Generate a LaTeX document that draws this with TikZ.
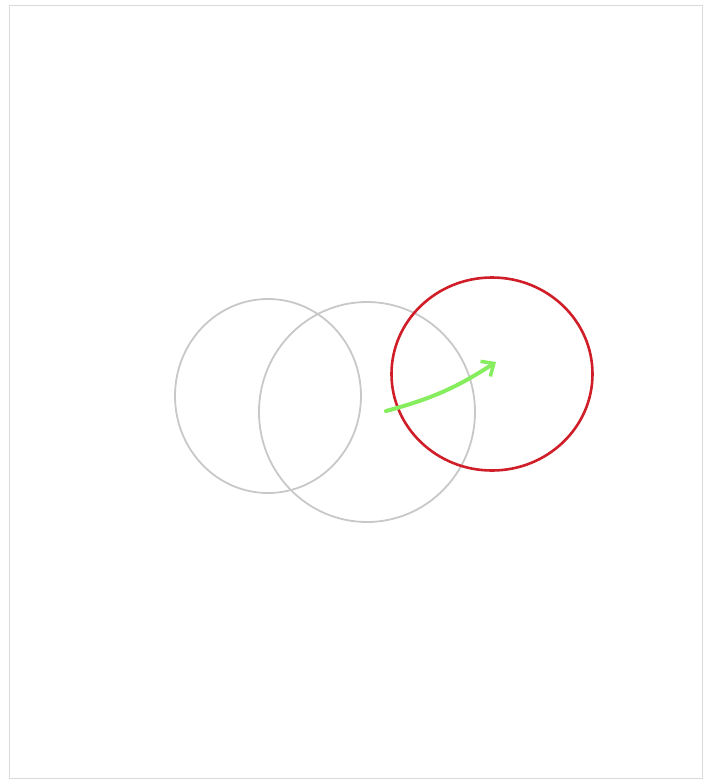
\documentclass[tikz,border=0pt]{standalone}
\usepackage{tikz}
\usetikzlibrary{shapes.geometric, arrows.meta, positioning}
\definecolor{sketchgray}{HTML}{C8C8C8}
\definecolor{sketchred}{HTML}{D01E28}
\definecolor{sketchgreen}{HTML}{86EE5E}
\definecolor{framegray}{HTML}{DADADA}

\begin{document}
\begin{tikzpicture}[
    x=1pt, y=-1pt,
    ring/.style={ellipse, draw=sketchgray, line width=1.8pt, inner sep=0pt},
    target/.style={ellipse, draw=sketchred, line width=2.6pt, inner sep=0pt},
    arrow/.style={-{Straight Barb[length=10pt, width=18pt, line width=3.5pt]}, line width=4pt, sketchgreen, line cap=round}
]
\useasboundingbox (0,0) rectangle (712,780);
\draw[framegray, line width=1pt] (9,5) rectangle (702,778);

% The two gray rings
\node[ring, minimum width=186pt, minimum height=194pt] (left_ring) at (268,396) {};
\node[ring, minimum width=216pt, minimum height=220pt] (mid_ring) at (367,412) {};

% The red ring
\node[target, minimum width=201pt, minimum height=193pt] (red_ring) at (492,374) {};

% Arrow from middle towards red
\coordinate (move_from) at (386,411);
\coordinate (move_to) at (496,362);
\draw[arrow] (move_from) to[bend right=9] (move_to);

\end{tikzpicture}
\end{document}
